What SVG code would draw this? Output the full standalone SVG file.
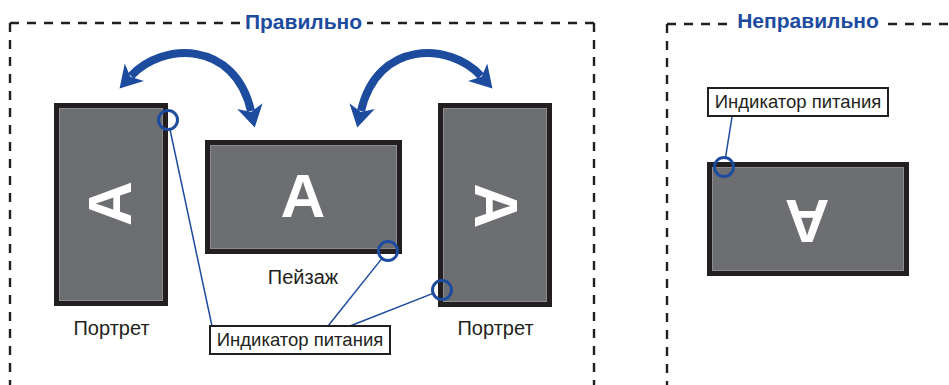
<svg xmlns="http://www.w3.org/2000/svg" width="949" height="385" viewBox="0 0 949 385">
<defs>
<style>
.dash{fill:none;stroke:#231f20;stroke-width:2.4;stroke-dasharray:9 8}
.title{font-family:"Liberation Sans",Arial,sans-serif;font-weight:bold;font-size:21px;fill:#1d4c9f}
.mon{fill:#6d6e71;stroke:#231f20;stroke-width:5}
.inner{fill:none;stroke:#8c8d90;stroke-width:1}
.letter{font-family:"Liberation Sans",Arial,sans-serif;font-weight:bold;font-size:62px;fill:#ffffff;text-anchor:middle}
.cap{font-family:"Liberation Sans",Arial,sans-serif;font-size:20px;fill:#231f20;text-anchor:middle}
.lbl{font-family:"Liberation Sans",Arial,sans-serif;font-size:18.5px;fill:#231f20;text-anchor:middle}
.box{fill:#ffffff;stroke:#231f20;stroke-width:2}
.led{fill:none;stroke:#1d4c9f;stroke-width:3}
.lead{fill:none;stroke:#1d4c9f;stroke-width:1.5}
.arc{fill:none;stroke:#1d4c9f;stroke-width:8}
</style>
<marker id="ah" markerUnits="userSpaceOnUse" viewBox="-2 -15 27 30" markerWidth="27" markerHeight="30" refX="5" refY="0" orient="auto-start-reverse">
<path d="M0,-13 L22,0 L0,13 L6,0 Z" fill="#1d4c9f"/>
</marker>
<path id="swing" class="arc" d="M131,76 C162,42 235,40 251,111" marker-start="url(#ah)" marker-end="url(#ah)"/>
</defs>

<g id="frame-correct">
<path class="dash" d="M10,23 H240"/>
<path class="dash" d="M10,23 V385"/>
<path class="dash" d="M594,23 H367"/>
<path class="dash" d="M594,23 V385"/>
<text class="title" x="303.5" y="29" text-anchor="middle">Правильно</text>
</g>

<g id="frame-incorrect">
<path class="dash" d="M667,24 H728"/>
<path class="dash" d="M667,24 V385"/>
<path class="dash" d="M888,24 H949"/>
<text class="title" x="808" y="28" text-anchor="middle">Неправильно</text>
</g>

<g id="connectors">
<use href="#swing"/>
<use href="#swing" transform="matrix(-1,0,0,1,612,0)"/>
<line class="lead" x1="170" y1="129.5" x2="212" y2="326"/>
<line class="lead" x1="382" y1="258.4" x2="328" y2="326"/>
<line class="lead" x1="433" y1="293.4" x2="350" y2="326"/>
<line class="lead" x1="725.5" y1="157.6" x2="732" y2="117"/>
</g>

<g id="portrait-left">
<rect class="mon" x="56.5" y="105.5" width="109" height="198"/>
<rect class="inner" x="59.5" y="108.5" width="103" height="192"/>
<text class="letter" transform="translate(108.5,203.5) rotate(-90)" x="0" y="22">A</text>
<text class="cap" x="111.5" y="335">Портрет</text>
<circle class="led" cx="168" cy="120" r="9.5"/>
</g>

<g id="landscape">
<rect class="mon" x="207.5" y="142.5" width="192" height="109"/>
<rect class="inner" x="210.5" y="145.5" width="186" height="103"/>
<text class="letter" x="303" y="217">A</text>
<text class="cap" x="303" y="284">Пейзаж</text>
<circle class="led" cx="388" cy="251" r="9.5"/>
</g>

<g id="portrait-right">
<rect class="mon" x="440.5" y="105.5" width="109" height="199"/>
<rect class="inner" x="443.5" y="108.5" width="103" height="193"/>
<text class="letter" transform="translate(497,206) rotate(90)" x="0" y="22">A</text>
<text class="cap" x="495.5" y="335">Портрет</text>
<circle class="led" cx="442" cy="290" r="9.5"/>
</g>

<g id="label-correct">
<rect class="box" x="210" y="326" width="180" height="28"/>
<text class="lbl" x="300" y="346">Индикатор питания</text>
</g>

<g id="monitor-incorrect">
<rect class="mon" x="709.5" y="164.5" width="197" height="109"/>
<rect class="inner" x="712.5" y="167.5" width="191" height="103"/>
<text class="letter" transform="translate(807,222) rotate(180)" x="0" y="22">A</text>
<circle class="led" cx="724" cy="167" r="9.5"/>
</g>

<g id="label-incorrect">
<rect class="box" x="708" y="88" width="180" height="28"/>
<text class="lbl" x="798" y="108">Индикатор питания</text>
</g>
</svg>
